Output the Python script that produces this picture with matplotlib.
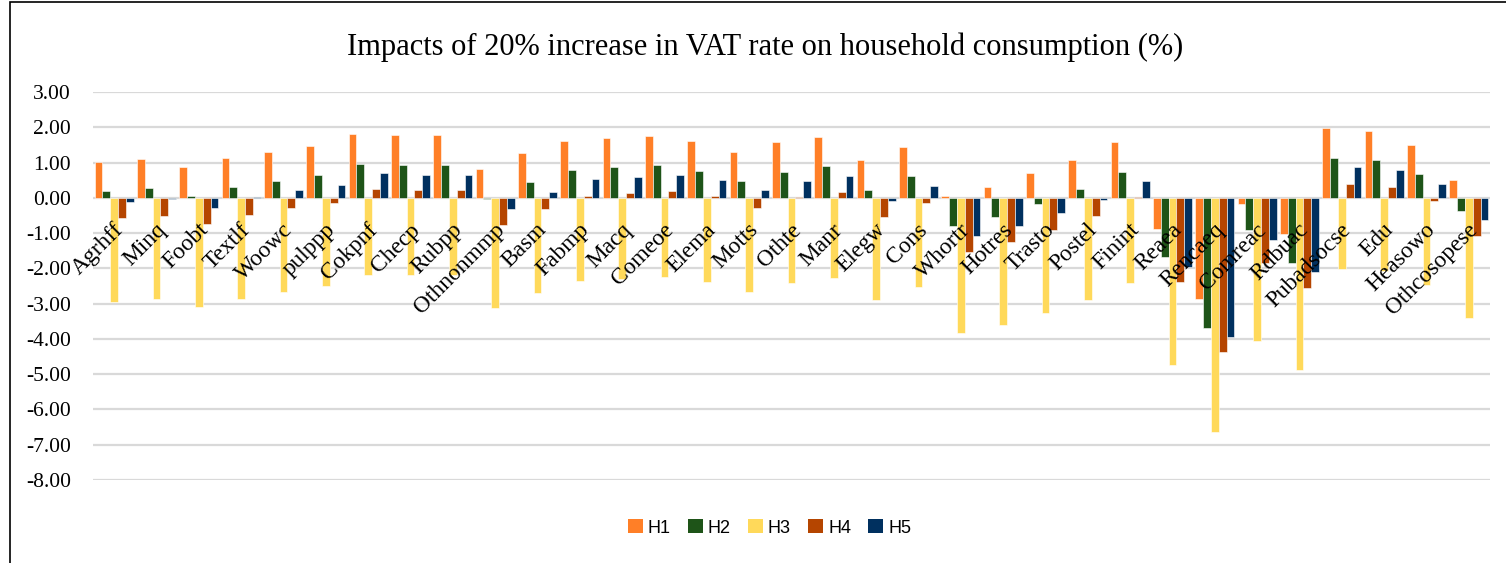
import matplotlib
matplotlib.use("Agg")
import matplotlib.pyplot as plt
import matplotlib.transforms as mtransforms
from matplotlib.patches import Rectangle, Patch
import numpy as np

categories = ["Agrhff", "Minq", "Foobt", "Textlf", "Woowc", "pulppp", "Cokpnf", "Checp",
              "Rubpp", "Othnonmmp", "Basm", "Fabmp", "Macq", "Comeoe", "Elema", "Motts",
              "Othte", "Manr", "Elegw", "Cons", "Whortr", "Hotres", "Trasto", "Postel",
              "Finint", "Reaea", "Rencaeq", "Comreac", "Rdbuac", "Pubadsocse", "Edu",
              "Heasowo", "Othcosopese"]

H1 = [1.01, 1.09, 0.86, 1.12, 1.31, 1.47, 1.81, 1.78, 1.77, 0.82, 1.27, 1.61, 1.70, 1.76,
      1.60, 1.31, 1.57, 1.73, 1.06, 1.45, 0.06, 0.32, 0.69, 1.08, 1.58, -0.87, -2.88,
      -0.17, -1.03, 1.97, 1.89, 1.50, 0.50]
H2 = [0.18, 0.27, 0.04, 0.30, 0.47, 0.64, 0.97, 0.94, 0.94, -0.03, 0.44, 0.78, 0.86, 0.92,
      0.77, 0.48, 0.73, 0.90, 0.23, 0.62, -0.79, -0.53, -0.17, 0.26, 0.74, -1.69, -3.69,
      -0.90, -1.84, 1.14, 1.06, 0.67, -0.36]
H3 = [-2.96, -2.88, -3.10, -2.86, -2.67, -2.51, -2.19, -2.20, -2.20, -3.11, -2.70, -2.37,
      -2.30, -2.24, -2.39, -2.67, -2.42, -2.26, -2.91, -2.53, -3.84, -3.61, -3.26, -2.89,
      -2.42, -4.74, -6.65, -4.06, -4.87, -2.03, -2.08, -2.46, -3.42]
H4 = [-0.58, -0.51, -0.74, -0.48, -0.30, -0.14, 0.25, 0.21, 0.21, -0.76, -0.32, 0.05,
      0.13, 0.19, 0.05, -0.29, 0.01, 0.17, -0.53, -0.15, -1.53, -1.25, -0.90, -0.51,
      0.03, -2.40, -4.37, -1.85, -2.56, 0.40, 0.32, -0.10, -1.08]
H5 = [-0.13, -0.03, -0.29, 0.03, 0.21, 0.37, 0.70, 0.66, 0.66, -0.31, 0.16, 0.52, 0.59,
      0.65, 0.51, 0.21, 0.47, 0.63, -0.10, 0.34, -1.07, -0.80, -0.44, -0.05, 0.48, -1.96,
      -3.94, -1.20, -2.11, 0.86, 0.79, 0.40, -0.63]

series_names = ["H1", "H2", "H3", "H4", "H5"]
series = [H1, H2, H3, H4, H5]
colors = ["#FF7F27", "#1E5418", "#FFD95A", "#B54500", "#00305F"]
yticks = [3, 2, 1, 0, -1, -2, -3, -4, -5, -6, -7, -8]

serif = ["Liberation Serif", "DejaVu Serif"]

fig = plt.figure(figsize=(15.06, 5.63), dpi=100)
ax = fig.add_axes([93 / 1506, 1 - 480 / 563, (1490 - 93) / 1506, (480 - 92) / 563])

x = np.arange(len(categories))
bw = 0.185
for k, (vals, c) in enumerate(zip(series, colors)):
    ax.bar(x + (k - 2) * bw, vals, width=bw, color=c, edgecolor="white",
           linewidth=0.4, zorder=3)

ax.set_xlim(-0.5, len(categories) - 0.5)
ax.set_ylim(-8, 3)
ax.set_yticks(yticks)
ax.set_yticklabels([f"{v:.2f}" for v in yticks], fontfamily=serif, fontsize=15.5)
ax.set_xticks([])
ax.tick_params(axis="y", length=0, pad=16)
ax.grid(axis="y", color="#D9D9D9", linewidth=1.6, zorder=0)
ax.set_axisbelow(True)
for s in ax.spines.values():
    s.set_visible(False)

offset = mtransforms.ScaledTranslation(0.06, -0.29, fig.dpi_scale_trans)
for i, name in enumerate(categories):
    ax.text(i, 0, name, rotation=45, rotation_mode="anchor", ha="right", va="center",
            fontfamily=serif, fontsize=16.8, transform=ax.transData + offset, zorder=5)

fig.text(0.508, 1 - 47 / 563, "Impacts of 20% increase in VAT rate on household consumption (%)",
         ha="center", va="center", fontfamily=serif, fontsize=22)

handles = [Patch(facecolor=c, edgecolor="none") for c in colors]
fig.legend(handles, series_names, loc="center", bbox_to_anchor=(0.511, 1 - 528 / 563),
           ncol=5, frameon=False, prop={"family": "Liberation Sans", "size": 13},
           handlelength=0.8, handleheight=0.8, handletextpad=0.3, columnspacing=0.95)

fig.patches.append(Rectangle((10 / 1506, -0.05), 1.2, 1 - 2 / 563 + 0.05,
                             transform=fig.transFigure, fill=False,
                             edgecolor="black", linewidth=1.2))

fig.savefig("out.png", dpi=100)
